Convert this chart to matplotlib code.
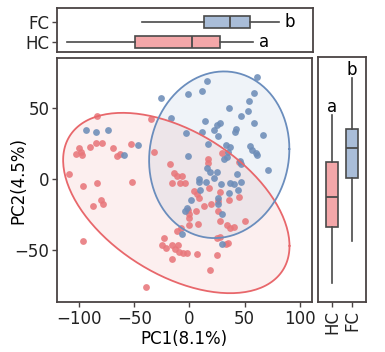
import numpy as np
import matplotlib.pyplot as plt

plt.rcParams['font.family'] = ['DejaVu Sans']
plt.rcParams['font.size'] = 12

# PCA scores
hc_x = [-84, -109, -100, -103, -98, -97, -90, -85, -79, -69, -66, -63, -53, -32, -35,
        -96, -84, -52, -87, -80, -78, -96, -39, -17.5, -14, -11, -7, -16, -8.4, -4,
        4, 7, 9, 17, 17, 30, 45, 18, 28, 26, 20, 13, 36, 45, -1, 6, -0.6, -0.3,
        26, 28, 34, 37, 40, 50, 8, -0.3, -8, -11, -23, -25, -21, -16, -13, -10,
        -9, -6, -2.4, -16, 6.6, 25, 28, 33, 35, 25, 19]
hc_y = [44, 3, 21.6, 17.6, 19, 17, 22, 25, 25, 21.6, 16, 17.4, 24.7, 19, 42,
        -5.4, -3, -2.4, -19, -15, -18, -44, -76.5, 10, 4, 2, 2, -3, -3, -3,
        -9, -11, -13.6, 14, 11, 18, 11.8, -6.6, -9.4, -16, -18, -19.5, -15, -13, -22, -23, -25, -28,
        -23, -30, -33, -35, -34, -30, -32, -33, -35, -37, -42, -46.6, -49, -46.6, -49.5, -46.6,
        -51.5, -52.7, -52.7, -57, -53, -42, -41, -46, -45.6, -54, -64.5]

fc_x = [16, 11, -26, -1.5, 61, 59, 54, 53, 36, 47, 59, 67, -16.6, 14, 28, 25, 42, 41, 22, -3,
        11, 26, 17, 33, 37, 55, 57, 60, 61, -1.5, 35, 34, 31, 46, 47, 71, 16, 19, 25, 43,
        9, 9, 15, 22, 29, 37, 40, 47, 10, 44, 36, 26, 1.5, 26, -2.4, -4, 30, -7, 30, -94,
        -85, -74, -47, -59]
fc_y = [69, 62, 57, 60, 71.5, 60.5, 55, 48, 50, 44, 39, 30.6, 43, 40.5, 39, 37.6, 35, 33, 34, 32,
        33, 30, 24.5, 24, 22, 23, 20.5, 18, 16.5, 16, 19, 15, 14, 12.7, 10, 6.4, 7.5, 5, 5, 3.3,
        0, -2.6, -2.6, 0.5, -4, -3, -4, -2.6, -8, -8, -10, -13.6, -15, -18, -21, -23, -25, -39, -46, 34,
        33, 34, 24, 17]

groups = ["HC", "FC"]
letters = ["a", "b"]
# boxplot stats (whislo, q1, med, q3, whishi)
pc1_box = [(-111, -50, 1.5, 27, 57), (-43, 13, 36, 54, 80)]
pc2_box = [(-74, -34, -13, 11, 44), (-44, 0, 21, 34.5, 70)]

pt_col = ["#E8777B", "#6D8DB8"]
line_col = ["#E8676B", "#6A8DBD"]
box_col = ["#F4A7A9", "#A9BDD8"]
frame = "#4a4343"
edge = "#4a4a4a"


def trob(x, nu=5, iters=200):
    # t-distribution robust covariance, like MASS::cov.trob
    n, p = x.shape
    w = np.ones(n)
    loc = x.mean(0)
    for _ in range(iters):
        xc = x - loc
        s = (xc * (w / w.sum())[:, None]).T @ xc
        q = np.einsum('ij,jk,ik->i', xc, np.linalg.inv(s), xc)
        w_new = (nu + p) / (nu + q)
        loc = (w_new[:, None] * x).sum(0) / w_new.sum()
        if np.allclose(w, w_new, atol=1e-6):
            w = w_new
            break
        w = w_new
    xc = x - loc
    cov = (xc * w[:, None]).T @ xc / n
    return loc, cov


def ellipse(x, y, radius=2.5, seg=200):
    loc, cov = trob(np.column_stack([x, y]))
    t = np.linspace(0, 2 * np.pi, seg)
    circ = np.column_stack([np.cos(t), np.sin(t)])
    ch = np.linalg.cholesky(cov).T
    pts = radius * circ @ ch + loc
    return pts[:, 0], pts[:, 1]


def stats(v):
    return dict(whislo=v[0], q1=v[1], med=v[2], q3=v[3], whishi=v[4], fliers=[])


fig = plt.figure(figsize=(3.85, 3.52), dpi=100)
ax = fig.add_axes([0.148, 0.142, 0.662, 0.693])
ax_t = fig.add_axes([0.148, 0.852, 0.665, 0.125])
ax_r = fig.add_axes([0.826, 0.142, 0.125, 0.696])

data = [(hc_x, hc_y), (fc_x, fc_y)]
for i, (x, y) in enumerate(data):
    ex, ey = ellipse(np.array(x, float), np.array(y, float))
    ax.fill(ex, ey, color=line_col[i], alpha=0.1, lw=0, zorder=1)
    ax.plot(ex, ey, color=line_col[i], lw=1.3, zorder=3)
for i, (x, y) in enumerate(data):
    ax.scatter(x, y, s=24, color=pt_col[i], alpha=0.88, lw=0, zorder=2)

ax.set_xlim(-120, 111)
ax.set_ylim(-87, 85)
ax.set_xticks([-100, -50, 0, 50, 100])
ax.set_yticks([-50, 0, 50])
ax.set_xlabel("PC1(8.1%)", labelpad=2)
ax.set_ylabel("PC2(4.5%)")
ax.yaxis.set_label_coords(-0.118, 0.5)

for i, box in enumerate([pc1_box, pc2_box]):
    a = ax_t if i == 0 else ax_r
    b = a.bxp([stats(v) for v in box], positions=[1, 2], widths=0.6,
              orientation='horizontal' if i == 0 else 'vertical',
              patch_artist=True, showcaps=False,
              boxprops=dict(edgecolor=edge, lw=1.2),
              whiskerprops=dict(color=edge, lw=1.2),
              medianprops=dict(color=edge, lw=1.3))
    for p, c in zip(b['boxes'], box_col):
        p.set_facecolor(c)
    for k, v in enumerate(box):
        if i == 0:
            a.text(v[4] + 5, k + 1, letters[k], ha='left', va='center', fontsize=12)
        else:
            a.text(k + 1, v[4] + 2.5, letters[k], ha='center', va='baseline', fontsize=12)

ax_t.set_xlim(ax.get_xlim())
ax_t.set_ylim(0.5, 2.7)
ax_t.set_yticks([1, 2])
ax_t.set_yticklabels(groups)
ax_t.set_xticks([])

ax_r.set_ylim(ax.get_ylim())
ax_r.set_xlim(0.3, 2.7)
ax_r.set_xticks([1, 2])
ax_r.set_xticklabels(groups, rotation=90)
ax_r.set_yticks([])

for a in (ax, ax_t, ax_r):
    for s in a.spines.values():
        s.set_color(frame)
        s.set_linewidth(1.3)
    a.tick_params(length=3.5, width=1, color=frame, pad=2, labelcolor="#222222")

fig.savefig("out.png", dpi=100)
